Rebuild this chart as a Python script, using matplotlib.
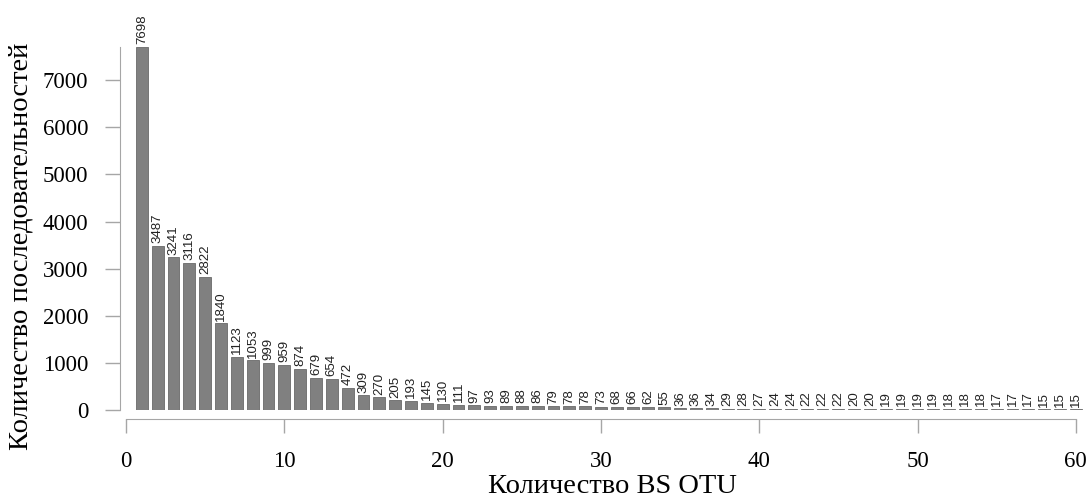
import matplotlib.pyplot as plt

# number of sequences per BS OTU, sorted
otu_rank = list(range(1, 61))
seq_counts = [7698, 3487, 3241, 3116, 2822, 1840, 1123, 1053, 999, 959,
              874, 679, 654, 472, 309, 270, 205, 193, 145, 130,
              111, 97, 93, 89, 88, 86, 79, 78, 78, 73,
              68, 66, 62, 55, 36, 36, 34, 29, 28, 27,
              24, 24, 22, 22, 22, 20, 20, 19, 19, 19,
              19, 18, 18, 18, 17, 17, 17, 15, 15, 15]
y_ticks = list(range(0, 8000, 1000))
x_ticks = [0, 10, 20, 30, 40, 50, 60]

serif = 'Liberation Serif'
axis_grey = '#a6a6a6'

fig = plt.figure(figsize=(10.89, 5.01), dpi=100)
ax = fig.add_axes([0.1102, 0.1816, 0.886, 0.818])

ax.bar(otu_rank, seq_counts, width=0.75, color='#808080', edgecolor='#6a6a6a', linewidth=0.6)

# value labels above each bar
for x, v in zip(otu_rank, seq_counts):
    ax.annotate(str(v), (x, v), xytext=(0, 2), textcoords='offset points',
                rotation=90, ha='center', va='bottom',
                fontsize=9.5, family='Liberation Sans', color='#222222')

ax.set_xlim(-0.38, 60.57)
ax.set_ylim(0, 8697)

for s in ['top', 'right']:
    ax.spines[s].set_visible(False)
ax.spines['left'].set_bounds(0, 7698)
ax.spines['left'].set_color(axis_grey)
ax.spines['bottom'].set_position(('outward', 6.5))
ax.spines['bottom'].set_bounds(0, 60)
ax.spines['bottom'].set_color(axis_grey)

ax.set_yticks(y_ticks)
ax.set_xticks(x_ticks)
ax.tick_params(axis='y', length=11, width=1, color=axis_grey, pad=12, labelsize=16.5)
ax.tick_params(axis='x', length=10, width=1, color=axis_grey, pad=13, labelsize=16.5)
for lab in ax.get_xticklabels() + ax.get_yticklabels():
    lab.set_family(serif)

ax.set_ylabel('Количество последовательностей', family=serif, fontsize=20.5)
ax.yaxis.set_label_coords(-0.09, 0.40)
ax.set_xlabel('Количество BS OTU', family=serif, fontsize=20.5, labelpad=0)
ax.xaxis.set_label_coords(0.51, -0.155)

fig.savefig('out.png', dpi=100)
